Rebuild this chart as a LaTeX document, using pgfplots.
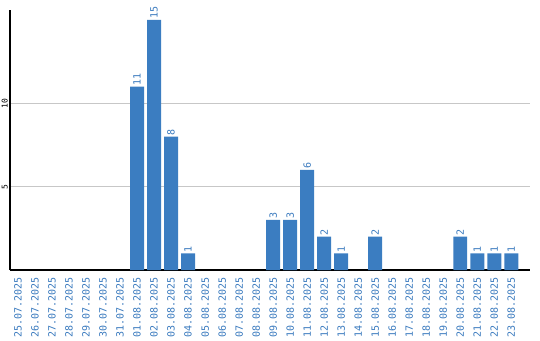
\documentclass[border=0pt]{standalone}
\usepackage{pgfplots}
\pgfplotsset{compat=1.18}
\usepackage{fontspec}
\setmonofont{DejaVu Sans Mono}
\definecolor{barblue}{RGB}{59,125,193}
\definecolor{txtblue}{RGB}{58,122,190}
\begin{document}
\begin{tikzpicture}
\path[use as bounding box] (0,0) rectangle (540pt,340pt);
\begin{axis}[
  at={(10pt,70pt)}, anchor=south west,
  scale only axis, width=520pt, height=260pt,
  xmin=-0.47, xmax=30.1, ymin=0, ymax=15.6,
  axis x line*=bottom, axis y line*=left,
  axis line style={black, line width=1.2pt, -},
  ybar, bar width=0.82, bar shift=0pt,
  xtick={0,...,29},
  xticklabels={25.07.2025,26.07.2025,27.07.2025,28.07.2025,29.07.2025,30.07.2025,31.07.2025,01.08.2025,02.08.2025,03.08.2025,04.08.2025,05.08.2025,06.08.2025,07.08.2025,08.08.2025,09.08.2025,10.08.2025,11.08.2025,12.08.2025,13.08.2025,14.08.2025,15.08.2025,16.08.2025,17.08.2025,18.08.2025,19.08.2025,20.08.2025,21.08.2025,22.08.2025,23.08.2025},
  x tick label style={rotate=90, anchor=east, font=\ttfamily\fontsize{10}{11}\selectfont, text=txtblue, inner sep=0pt, xshift=-1pt},
  xticklabel shift=6.5pt,
  ytick={5,10},
  y tick label style={rotate=90, anchor=south, font=\ttfamily\fontsize{8}{9}\selectfont, text=black, inner sep=0pt},
  yticklabel shift=2pt,
  /pgf/number format/assume math mode=true,
  major tick length=0pt,
  ymajorgrids, grid style={color=black!22, line width=0.9pt},
  nodes near coords,
  nodes near coords style={rotate=90, anchor=west, font=\ttfamily\fontsize{10}{11}\selectfont, text=txtblue, inner sep=1pt},
  point meta=explicit symbolic,
]
\addplot[fill=barblue, draw=none] coordinates {
(7,11)[11] (8,15)[15] (9,8)[8] (10,1)[1]
(15,3)[3] (16,3)[3] (17,6)[6] (18,2)[2] (19,1)[1]
(21,2)[2] (26,2)[2] (27,1)[1] (28,1)[1] (29,1)[1]
};
\end{axis}
\end{tikzpicture}
\end{document}
